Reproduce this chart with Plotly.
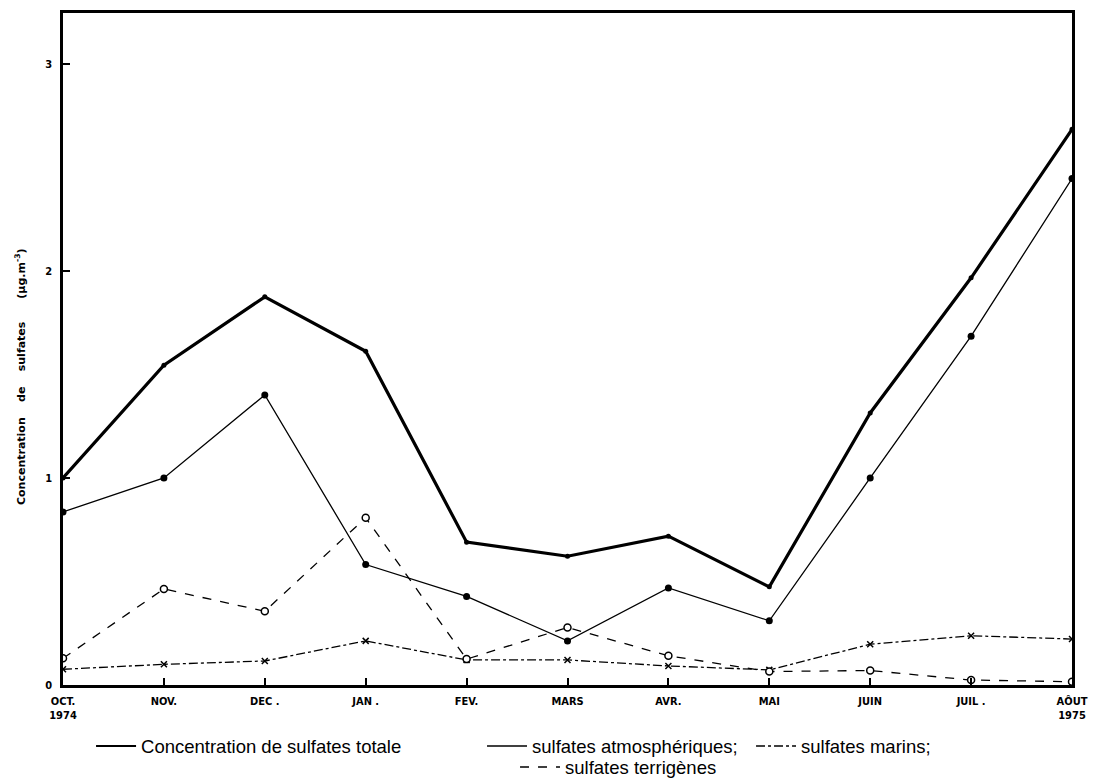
import plotly.graph_objects as go

months = ["OCT.<br>1974", "NOV.", "DEC .", "JAN .", "FEV.", "MARS", "AVR.", "MAI", "JUIN", "JUIL .", "AÔUT<br>1975"]
x_pos = list(range(len(months)))

totale = [1.00, 1.545, 1.875, 1.612, 0.690, 0.622, 0.719, 0.474, 1.314, 1.967, 2.684]
atmospheriques = [0.836, 1.00, 1.401, 0.582, 0.428, 0.213, 0.469, 0.310, 1.00, 1.685, 2.446]
marins = [0.076, 0.100, 0.116, 0.213, 0.121, 0.121, 0.092, 0.073, 0.197, 0.238, 0.222]
terrigenes = [0.129, 0.464, 0.356, 0.808, 0.125, 0.278, 0.141, 0.065, 0.070, 0.024, 0.016]

y_ticks = [0, 1, 2, 3]

names = ["Concentration de sulfates totale", "sulfates atmosphériques;",
         "sulfates marins;", "sulfates terrigènes"]
series = [totale, atmospheriques, marins, terrigenes]
line_styles = [dict(color="black", width=3.2),
               dict(color="black", width=1.3),
               dict(color="black", width=1.3, dash="dashdot"),
               dict(color="black", width=1.3, dash="dash")]
markers = [dict(color="black", size=5),
           dict(color="black", size=7),
           dict(color="black", size=6, symbol="x-thin", line=dict(width=1.5, color="black")),
           dict(color="white", size=7, symbol="circle", line=dict(width=1.5, color="black"))]
legend_ids = ["legend", "legend2", "legend3", "legend4"]
legend_lines = [dict(color="black", width=2),
                dict(color="black", width=1.5),
                dict(color="black", width=1.5, dash="dashdot"),
                dict(color="black", width=1.5, dash="dash")]

fig = go.Figure()
for name, vals, ls, mk in zip(names, series, line_styles, markers):
    fig.add_trace(go.Scatter(x=x_pos, y=vals, mode="lines+markers", name=name,
                             line=ls, marker=mk, showlegend=False))
# legend entries (line samples only)
for name, lid, ll in zip(names, legend_ids, legend_lines):
    fig.add_trace(go.Scatter(x=[None], y=[None], mode="lines", name=name,
                             line=ll, legend=lid, showlegend=True))

tick_font = dict(family="DejaVu Sans Condensed", size=11, color="black", weight="bold")
leg_font = dict(family="Liberation Sans", size=18.5, color="black")

def leg(x, y):
    return dict(x=x, y=y, xanchor="left", yanchor="middle", orientation="h",
                font=leg_font, bgcolor="rgba(0,0,0,0)", borderwidth=0, itemwidth=40)

fig.update_layout(
    width=1087, height=783, showlegend=True,
    margin=dict(l=55, r=23, t=5, b=94),
    paper_bgcolor="white", plot_bgcolor="white",
    legend=leg(0.0278, -0.0914),
    legend2=leg(0.4153, -0.0914),
    legend3=leg(0.6819, -0.0914),
    legend4=leg(0.448, -0.1228),
    xaxis=dict(
        range=[0, len(months) - 1], tickmode="array", tickvals=x_pos, ticktext=months,
        showgrid=False, zeroline=False, showline=True, linecolor="black", linewidth=2.5,
        mirror=True, ticks="inside", ticklen=7, tickwidth=2, tickcolor="black",
        tickfont=tick_font, ticklabelstandoff=4, automargin=False),
    yaxis=dict(
        range=[0, 3.246], tickmode="array", tickvals=y_ticks, ticktext=[str(v) for v in y_ticks],
        showgrid=False, zeroline=False, showline=True, linecolor="black", linewidth=2.5,
        mirror=True, ticks="inside", ticklen=7, tickwidth=2, tickcolor="black",
        tickfont=tick_font, ticklabelstandoff=6, automargin=False),
    annotations=[dict(
        text="Concentration    de    sulfates      (µg.m<sup>-3</sup>)",
        xref="paper", yref="paper", x=-0.0426, y=0.4583, xanchor="center", yanchor="middle",
        textangle=-90, showarrow=False,
        font=dict(family="DejaVu Sans", size=11, color="black", weight="bold"))],
)

fig.write_html("out.html")
